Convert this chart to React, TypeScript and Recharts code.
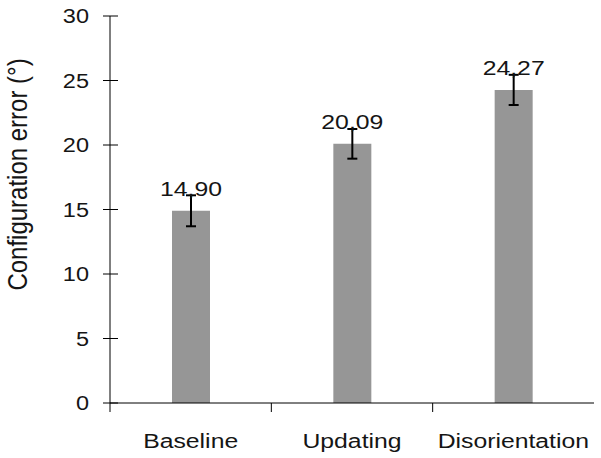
import React from 'react';
import {
  BarChart,
  Bar,
  XAxis,
  YAxis,
  ErrorBar,
  LabelList,
} from 'recharts';

const CATEGORIES = ['Baseline', 'Updating', 'Disorientation'];
const MEANS = [14.9, 20.09, 24.27];
const ERRORS = [1.2, 1.15, 1.17];
const Y_TICKS = [0, 5, 10, 15, 20, 25, 30];

const data = CATEGORIES.map((name, i) => ({
  name,
  value: MEANS[i],
  err: ERRORS[i],
}));

const FONT = '"Liberation Sans", Arial, sans-serif';
const TEXT = '#151515';
// the original text is a bit wider than Arial at its height
const STRETCH = 1.18;

const YTick = (props: any) => {
  const { x, y, payload } = props;
  return (
    <g>
      <line x1={x - 7} y1={y} x2={x + 8} y2={y} stroke='#000' strokeWidth={1} />
      <text
        transform={`translate(${x - 21},${y}) scale(1.12,1)`}
        textAnchor='end'
        dominantBaseline='central'
        fontFamily={FONT}
        fontSize={21}
        fill={TEXT}
      >
        {payload.value}
      </text>
    </g>
  );
};

const XTick = (props: any) => {
  const { x, y, payload } = props;
  const half = payload.offset || 80.7;
  return (
    <g>
      <line x1={x - half} y1={y} x2={x - half} y2={y + 9} stroke='#000' strokeWidth={1} />
      <text
        transform={`translate(${x},${y + 45}) scale(${STRETCH},1)`}
        textAnchor='middle'
        fontFamily={FONT}
        fontSize={21}
        fill={TEXT}
      >
        {payload.value}
      </text>
    </g>
  );
};

const ValueLabel = (props: any) => {
  const { x, y, width, value } = props;
  return (
    <text
      transform={`translate(${x + width / 2},${y - 15}) scale(${STRETCH},1)`}
      textAnchor='middle'
      fontFamily={FONT}
      fontSize={21}
      fill={TEXT}
    >
      {Number(value).toFixed(2).replace('.', ',')}
    </text>
  );
};

const YLabel = (props: any) => {
  const { viewBox } = props;
  const cx = viewBox.x + 17;
  const cy = viewBox.y + viewBox.height / 2 - 35;
  return (
    <text
      transform={`translate(${cx},${cy}) scale(${STRETCH},1) rotate(-90)`}
      textAnchor='middle'
      dominantBaseline='central'
      fontFamily={FONT}
      fontSize={24}
      fill={TEXT}
    >
      Configuration error (°)
    </text>
  );
};

export default function App() {
  return (
    <div style={{ position: 'absolute', left: 0, top: 0, background: '#fff' }}>
      <BarChart
        width={601}
        height={458}
        data={data}
        margin={{ top: 16, right: 7, bottom: 0, left: 0 }}
        barSize={38}
      >
        <XAxis
          dataKey='name'
          height={55}
          tickSize={0}
          tickMargin={0}
          tickLine={false}
          axisLine={{ stroke: '#000', strokeWidth: 1 }}
          tick={<XTick />}
          interval={0}
        />
        <YAxis
          width={110}
          domain={[0, 30]}
          ticks={Y_TICKS}
          tickSize={0}
          tickMargin={0}
          tickLine={false}
          axisLine={{ stroke: '#000', strokeWidth: 1 }}
          tick={<YTick />}
          interval={0}
          label={<YLabel />}
        />
        <Bar dataKey='value' fill='#969696' isAnimationActive={false}>
          <ErrorBar dataKey='err' width={5} stroke='#000' strokeWidth={2} direction='y' />
          <LabelList dataKey='value' content={<ValueLabel />} />
        </Bar>
      </BarChart>
    </div>
  );
}
